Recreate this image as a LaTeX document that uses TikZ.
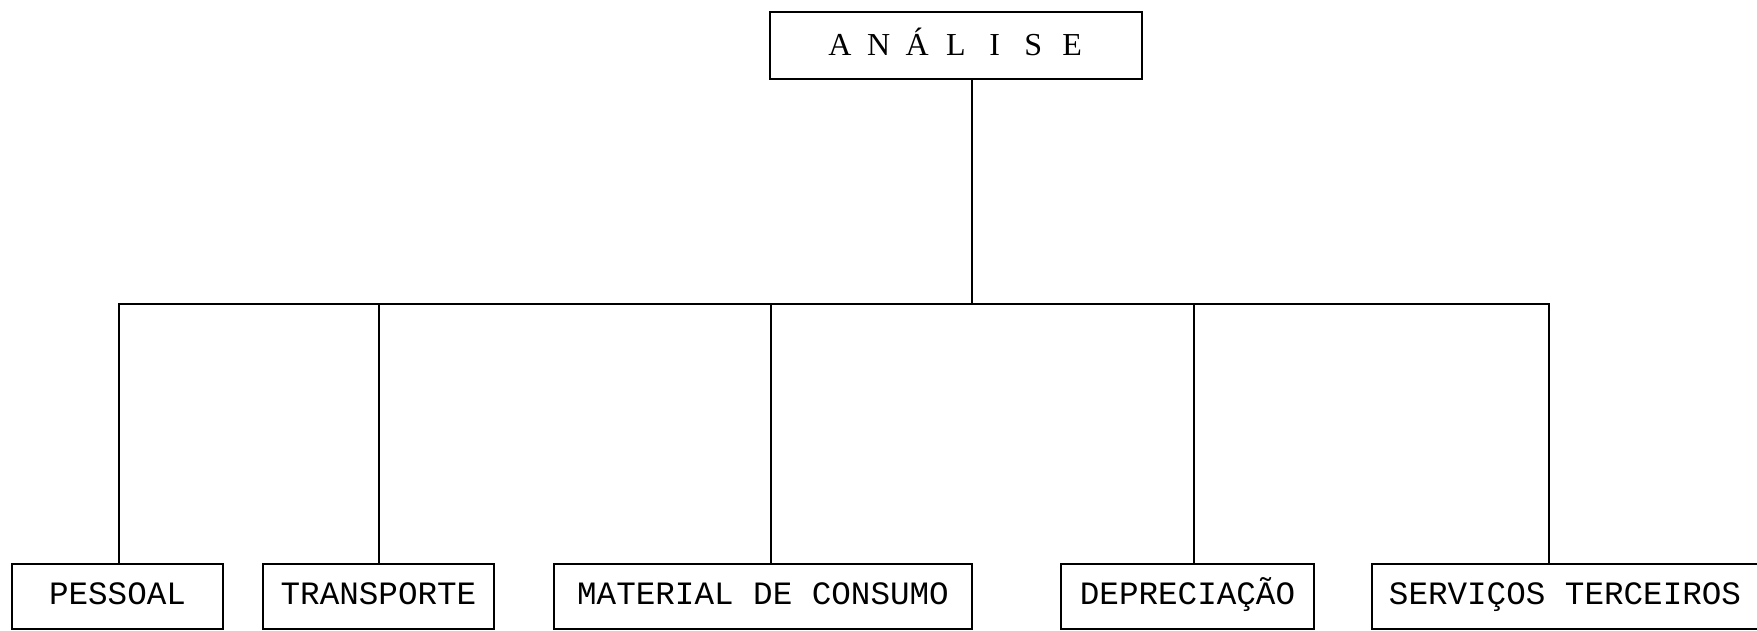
\documentclass[tikz,border=0pt]{standalone}
\usepackage{fontspec}
\setmainfont{Liberation Serif}
\newfontfamily\monofam{Liberation Mono}
\begin{document}
\begin{tikzpicture}[x=1pt,y=-1pt,
  boxbase/.style={draw=black, line width=2.6pt, inner sep=0pt, minimum height=65pt},
  leafbox/.style={boxbase, font=\monofam\fontsize{32.6}{36}\selectfont, text height=15pt, text depth=0pt},
  conn/.style={draw=black, line width=2.6pt}]
\useasboundingbox (0,0) rectangle (1757,630);
\newcommand{\lt}[1]{\makebox[38.7pt]{#1}}
\node[boxbase, minimum width=372pt, minimum height=67pt, font=\fontsize{32}{36}\selectfont, text height=20pt, text depth=0pt] (analise) at (956,45.5) {\lt{A}\lt{N}\lt{Á}\lt{L}\lt{I}\lt{S}\lt{E}};
\node[leafbox, minimum width=211pt] (pessoal) at (117.5,596.5) {PESSOAL};
\node[leafbox, minimum width=231pt] (transporte) at (378.5,596.5) {TRANSPORTE};
\node[leafbox, minimum width=418pt] (material) at (763,596.5) {MATERIAL DE CONSUMO};
\node[leafbox, minimum width=253pt] (deprec) at (1187.5,596.5) {DEPRECIAÇÃO};
\node[leafbox, minimum width=386pt] (servicos) at (1565,596.5) {SERVIÇOS TERCEIROS};
\coordinate (jt) at (972,304);
\coordinate (j1) at (119,304);
\coordinate (j2) at (379,304);
\coordinate (j3) at (771,304);
\coordinate (j4) at (1194,304);
\coordinate (j5) at (1549,304);
\draw[conn] (analise.south -| jt) -- (jt);
\draw[conn, line cap=rect] (j1) -- (j5);
\draw[conn] (j1) -- (pessoal.north -| j1);
\draw[conn] (j2) -- (transporte.north -| j2);
\draw[conn] (j3) -- (material.north -| j3);
\draw[conn] (j4) -- (deprec.north -| j4);
\draw[conn] (j5) -- (servicos.north -| j5);
\end{tikzpicture}
\end{document}
